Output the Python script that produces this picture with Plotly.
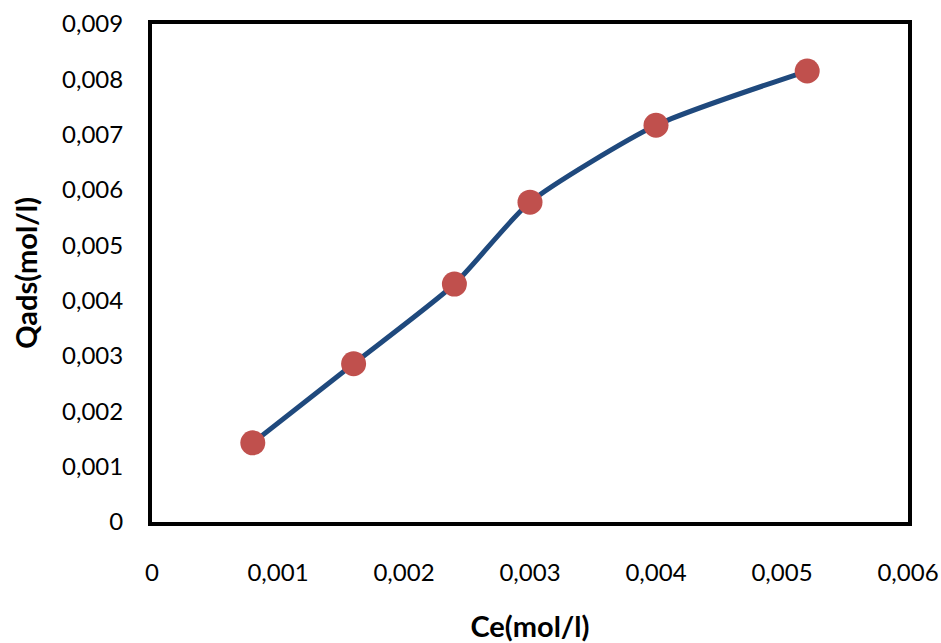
import plotly.graph_objects as go

ce = [0.0008, 0.0016, 0.0024, 0.003, 0.004, 0.0052]
qads = [0.00143, 0.00286, 0.0043, 0.00578, 0.00717, 0.00815]

x_tickvals = [0, 0.001, 0.002, 0.003, 0.004, 0.005, 0.006]
x_ticktext = ["0", "0,001", "0,002", "0,003", "0,004", "0,005", "0,006"]
y_tickvals = [0, 0.001, 0.002, 0.003, 0.004, 0.005, 0.006, 0.007, 0.008, 0.009]
y_ticktext = ["0", "0,001", "0,002", "0,003", "0,004", "0,005", "0,006", "0,007", "0,008", "0,009"]

FONT = "Lato, Open Sans, sans-serif"

fig = go.Figure()
fig.add_trace(go.Scatter(
    x=ce, y=qads, mode="lines+markers",
    line=dict(color="#1F497D", width=5, shape="spline", smoothing=0.6),
    marker=dict(color="#C0504D", size=25, line=dict(width=0)),
    showlegend=False,
))

fig.update_layout(
    width=941, height=643,
    margin=dict(l=152, r=33, t=24, b=121),
    paper_bgcolor="white", plot_bgcolor="white",
    font=dict(family=FONT, size=24, color="black"),
    xaxis=dict(
        range=[0, 0.006], tickvals=x_tickvals, ticktext=x_ticktext,
        showgrid=False, zeroline=False, showline=True, mirror=True,
        linecolor="black", linewidth=4, ticks="", ticklabelstandoff=26,
        automargin=False,
        title=dict(text="<b>Ce(mol/l)</b>", font=dict(size=29), standoff=36),
    ),
    yaxis=dict(
        range=[0, 0.009], tickvals=y_tickvals, ticktext=y_ticktext,
        showgrid=False, zeroline=False, showline=True, mirror=True,
        linecolor="black", linewidth=4, ticks="", ticklabelstandoff=20,
        automargin=False,
        title=dict(text="<b>Qads(mol/l)</b>", font=dict(size=29), standoff=17),
    ),
)

# Remove the default page margin so the figure sits at the window's corner.
fig.write_html(
    "out.html",
    config={"displayModeBar": False},
    post_script="document.body.style.margin='0';document.body.style.overflow='hidden';",
)
